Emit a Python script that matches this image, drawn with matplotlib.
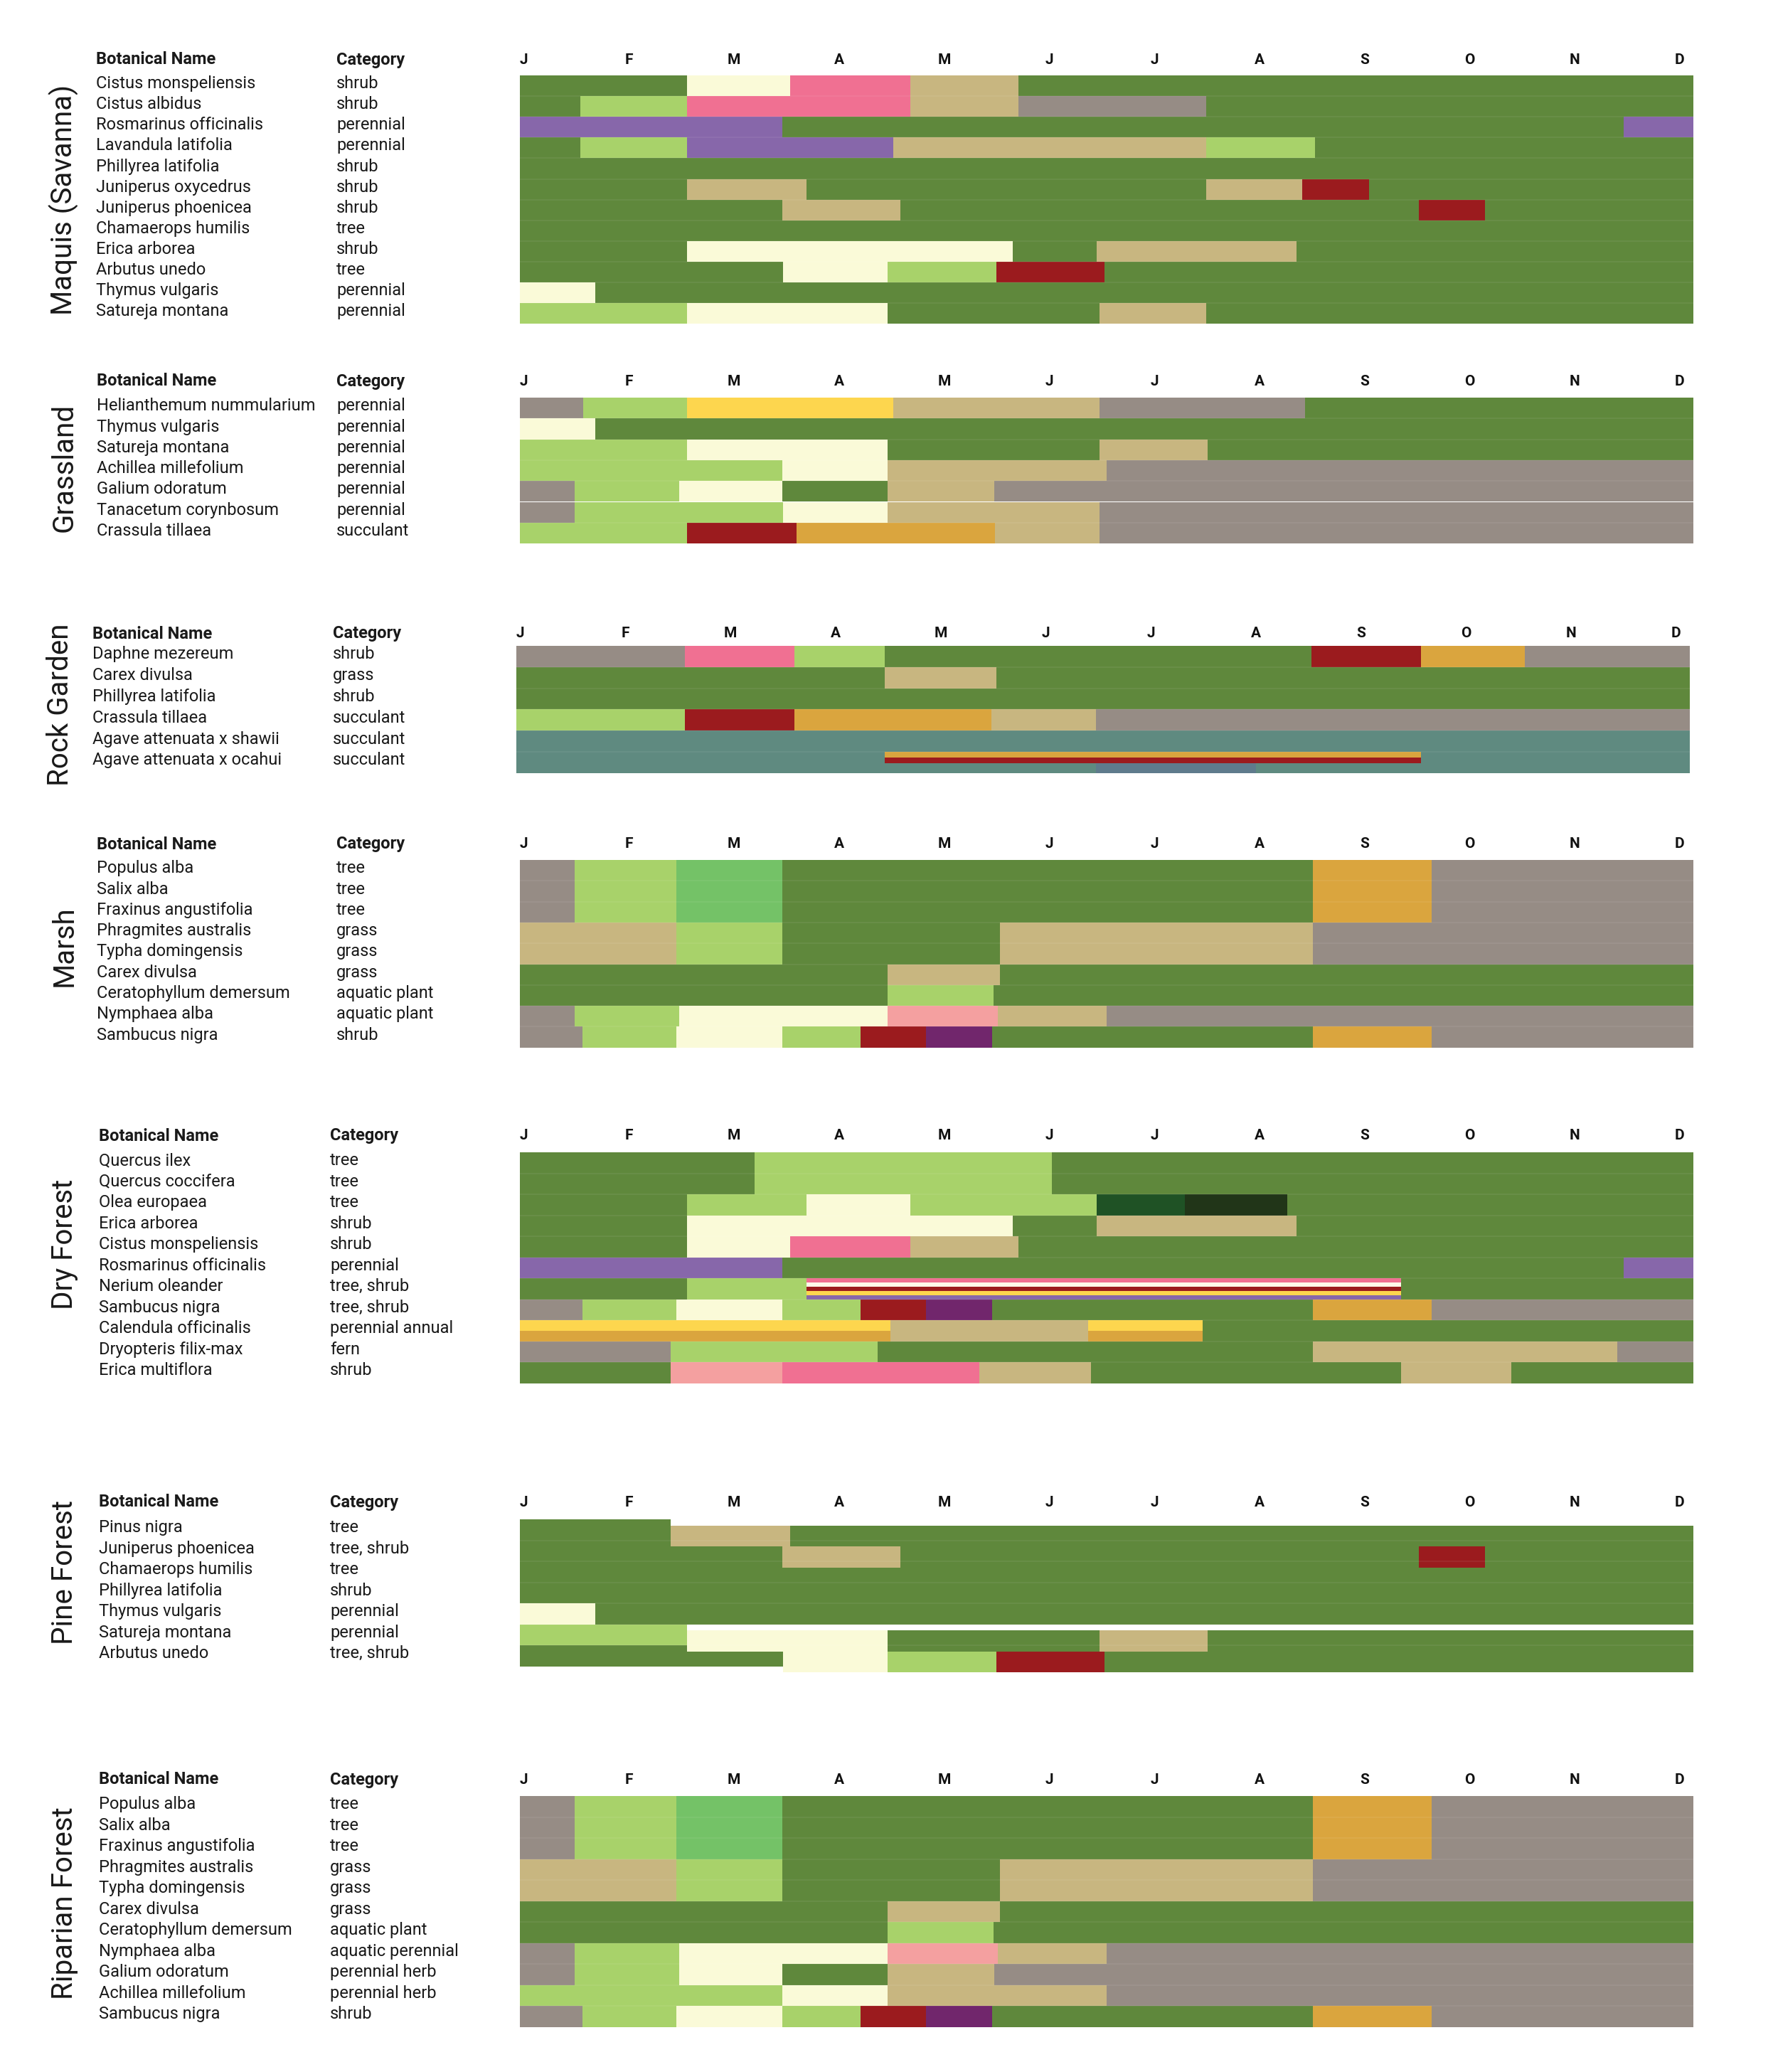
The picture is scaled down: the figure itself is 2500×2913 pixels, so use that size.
import numpy as np
import matplotlib
matplotlib.use("Agg")
import matplotlib.pyplot as plt
from matplotlib.transforms import blended_transform_factory

plt.rcParams['font.family'] = ['Roboto', 'DejaVu Sans']

MONTHS = ['J', 'F', 'M', 'A', 'M', 'J', 'J', 'A', 'S', 'O', 'N', 'D']

# phase colour keys -> hex
PALETTE = {
    'G': '#5f883c', 'LG': '#a8d26a', 'MG': '#74c267', 'CR': '#fafad8',
    'WH': '#fff8ea', 'PK': '#f07092', 'SA': '#f4a0a0', 'TN': '#c8b680',
    'GY': '#968c85', 'PU': '#8767aa', 'RD': '#9b1b1e', 'DP': '#71266c',
    'YL': '#fdd64e', 'OR': '#daa53e', 'TL': '#5f8a80', 'SL': '#5f7b8c',
    'DG': '#1f5225', 'BK': '#213518',
}

# ---- Maquis (Savanna)
MAQUIS_NAMES = ['Cistus monspeliensis', 'Cistus albidus', 'Rosmarinus officinalis',
                'Lavandula latifolia', 'Phillyrea latifolia', 'Juniperus oxycedrus',
                'Juniperus phoenicea', 'Chamaerops humilis', 'Erica arborea',
                'Arbutus unedo', 'Thymus vulgaris', 'Satureja montana']
MAQUIS_CATS = ['shrub', 'shrub', 'perennial', 'perennial', 'shrub', 'shrub', 'shrub',
               'tree', 'shrub', 'tree', 'perennial', 'perennial']
# each row: list of (phase, end month); a run starts where the previous one ended
MAQUIS_RUNS = [
    [('G', 1.71), ('CR', 2.76), ('PK', 3.99), ('TN', 5.10), ('G', 12)],
    [('G', 0.62), ('LG', 1.71), ('PK', 3.99), ('TN', 5.10), ('GY', 7.02), ('G', 12)],
    [('PU', 2.68), ('G', 11.29), ('PU', 12)],
    [('G', 0.62), ('LG', 1.71), ('PU', 3.82), ('TN', 7.02), ('LG', 8.13), ('G', 12)],
    [('G', 12)],
    [('G', 1.71), ('TN', 2.93), ('G', 7.02), ('TN', 8.0), ('RD', 8.68), ('G', 12)],
    [('G', 2.68), ('TN', 3.89), ('G', 9.19), ('RD', 9.87), ('G', 12)],
    [('G', 12)],
    [('G', 1.71), ('CR', 5.04), ('G', 5.90), ('TN', 7.94), ('G', 12)],
    [('G', 2.69), ('CR', 3.76), ('LG', 4.87), ('RD', 5.98), ('G', 12)],
    [('CR', 0.77), ('G', 12)],
    [('LG', 1.71), ('CR', 3.76), ('G', 5.93), ('TN', 7.02), ('G', 12)],
]

# ---- Grassland
GRASS_NAMES = ['Helianthemum nummularium', 'Thymus vulgaris', 'Satureja montana',
               'Achillea millefolium', 'Galium odoratum', 'Tanacetum corynbosum',
               'Crassula tillaea']
GRASS_CATS = ['perennial'] * 6 + ['succulant']
GRASS_RUNS = [
    [('GY', 0.65), ('LG', 1.71), ('YL', 3.82), ('TN', 5.93), ('GY', 8.03), ('G', 12)],
    [('CR', 0.77), ('G', 12)],
    [('LG', 1.71), ('CR', 3.76), ('G', 5.93), ('TN', 7.03), ('G', 12)],
    [('LG', 2.68), ('CR', 3.76), ('TN', 6.0), ('GY', 12)],
    [('GY', 0.56), ('LG', 1.63), ('CR', 2.68), ('G', 3.76), ('TN', 4.85), ('GY', 12)],
    [('GY', 0.56), ('LG', 2.69), ('CR', 3.76), ('TN', 5.93), ('GY', 12)],
    [('LG', 1.71), ('RD', 2.83), ('OR', 4.86), ('TN', 5.93), ('GY', 12)],
]

# ---- Rock Garden
ROCK_NAMES = ['Daphne mezereum', 'Carex divulsa', 'Phillyrea latifolia', 'Crassula tillaea',
              'Agave attenuata x shawii', 'Agave attenuata x ocahui']
ROCK_CATS = ['shrub', 'grass', 'shrub', 'succulant', 'succulant', 'succulant']
ROCK_RUNS = [
    [('GY', 1.72), ('PK', 2.84), ('LG', 3.77), ('G', 8.13), ('RD', 9.25), ('OR', 10.31), ('GY', 12)],
    [('G', 3.77), ('TN', 4.91), ('G', 12)],
    [('G', 12)],
    [('LG', 1.72), ('RD', 2.84), ('OR', 4.86), ('TN', 5.93), ('GY', 12)],
    [('TL', 12)],
    [('TL', 12)],
]
# partial-height bands: (row, start, end, phase, top frac, bottom frac)
ROCK_BANDS = [(5, 3.77, 9.25, 'OR', 0.0, 0.27), (5, 3.77, 9.25, 'RD', 0.27, 0.54),
              (5, 5.93, 7.56, 'SL', 0.54, 1.0)]

# ---- Marsh
MARSH_NAMES = ['Populus alba', 'Salix alba', 'Fraxinus angustifolia', 'Phragmites australis',
               'Typha domingensis', 'Carex divulsa', 'Ceratophyllum demersum',
               'Nymphaea alba', 'Sambucus nigra']
MARSH_CATS = ['tree', 'tree', 'tree', 'grass', 'grass', 'grass', 'aquatic plant',
              'aquatic plant', 'shrub']
MARSH_RUNS = [
    [('GY', 0.56), ('LG', 1.60), ('MG', 2.68), ('G', 8.11), ('OR', 9.32), ('GY', 12)],
    [('GY', 0.56), ('LG', 1.60), ('MG', 2.68), ('G', 8.11), ('OR', 9.32), ('GY', 12)],
    [('GY', 0.56), ('LG', 1.60), ('MG', 2.68), ('G', 8.11), ('OR', 9.32), ('GY', 12)],
    [('TN', 1.60), ('LG', 2.68), ('G', 4.91), ('TN', 8.11), ('GY', 12)],
    [('TN', 1.60), ('LG', 2.68), ('G', 4.91), ('TN', 8.11), ('GY', 12)],
    [('G', 3.76), ('TN', 4.91), ('G', 12)],
    [('G', 3.76), ('LG', 4.84), ('G', 12)],
    [('GY', 0.56), ('LG', 1.63), ('CR', 3.76), ('SA', 4.89), ('TN', 6.0), ('GY', 12)],
    [('GY', 0.64), ('LG', 1.60), ('CR', 2.68), ('LG', 3.48), ('RD', 4.15), ('DP', 4.83),
     ('G', 8.11), ('OR', 9.32), ('GY', 12)],
]

# ---- Dry Forest
DRY_NAMES = ['Quercus ilex', 'Quercus coccifera', 'Olea europaea', 'Erica arborea',
             'Cistus monspeliensis', 'Rosmarinus officinalis', 'Nerium oleander',
             'Sambucus nigra', 'Calendula officinalis', 'Dryopteris filix-max',
             'Erica multiflora']
DRY_CATS = ['tree', 'tree', 'tree', 'shrub', 'shrub', 'perennial', 'tree, shrub',
            'tree, shrub', 'perennial annual', 'fern', 'shrub']
DRY_RUNS = [
    [('G', 2.40), ('LG', 5.44), ('G', 12)],
    [('G', 2.40), ('LG', 5.44), ('G', 12)],
    [('G', 1.71), ('LG', 2.93), ('CR', 3.99), ('LG', 5.90), ('DG', 6.80), ('BK', 7.85), ('G', 12)],
    [('G', 1.71), ('CR', 5.04), ('G', 5.90), ('TN', 7.94), ('G', 12)],
    [('G', 1.71), ('CR', 2.76), ('PK', 3.99), ('TN', 5.10), ('G', 12)],
    [('PU', 2.68), ('G', 11.29), ('PU', 12)],
    [('G', 1.71), ('LG', 2.93), ('G', 12)],
    [('GY', 0.64), ('LG', 1.60), ('CR', 2.68), ('LG', 3.48), ('RD', 4.15), ('DP', 4.83),
     ('G', 8.11), ('OR', 9.32), ('GY', 12)],
    [('YL', 3.79), ('TN', 5.81), ('YL', 6.98), ('G', 12)],
    [('GY', 1.54), ('LG', 3.66), ('G', 8.11), ('TN', 11.22), ('GY', 12)],
    [('G', 1.54), ('SA', 2.68), ('PK', 4.70), ('TN', 5.84), ('G', 9.01), ('TN', 10.14), ('G', 12)],
]
DRY_BANDS = [(6, 2.93, 9.01, 'PK', 0.0, 0.2), (6, 2.93, 9.01, 'WH', 0.2, 0.4),
             (6, 2.93, 9.01, 'RD', 0.4, 0.6), (6, 2.93, 9.01, 'YL', 0.6, 0.8),
             (6, 2.93, 9.01, 'PU', 0.8, 1.0),
             (8, 0.0, 3.79, 'OR', 0.5, 1.0), (8, 5.81, 6.98, 'OR', 0.5, 1.0)]

# ---- Pine Forest
PINE_NAMES = ['Pinus nigra', 'Juniperus phoenicea', 'Chamaerops humilis', 'Phillyrea latifolia',
              'Thymus vulgaris', 'Satureja montana', 'Arbutus unedo']
PINE_CATS = ['tree', 'tree, shrub', 'tree', 'shrub', 'perennial', 'perennial', 'tree, shrub']
PINE_RUNS = [
    [('G', 1.54), ('TN', 2.76), ('G', 12)],
    [('G', 2.68), ('TN', 3.89), ('G', 9.19), ('RD', 9.87), ('G', 12)],
    [('G', 12)],
    [('G', 12)],
    [('CR', 0.77), ('G', 12)],
    [('LG', 1.71), ('CR', 3.76), ('G', 5.93), ('TN', 7.03), ('G', 12)],
    [('G', 2.69), ('CR', 3.76), ('LG', 4.87), ('RD', 5.98), ('G', 12)],
]
# month from which a row is drawn slipped down (as in the source table)
PINE_SHIFT_FROM = [1.54, 2.68, None, None, None, 1.71, 2.69]

# ---- Riparian Forest
RIP_NAMES = ['Populus alba', 'Salix alba', 'Fraxinus angustifolia', 'Phragmites australis',
             'Typha domingensis', 'Carex divulsa', 'Ceratophyllum demersum', 'Nymphaea alba',
             'Galium odoratum', 'Achillea millefolium', 'Sambucus nigra']
RIP_CATS = ['tree', 'tree', 'tree', 'grass', 'grass', 'grass', 'aquatic plant',
            'aquatic perennial', 'perennial herb', 'perennial herb', 'shrub']
RIP_RUNS = [
    [('GY', 0.56), ('LG', 1.60), ('MG', 2.68), ('G', 8.11), ('OR', 9.32), ('GY', 12)],
    [('GY', 0.56), ('LG', 1.60), ('MG', 2.68), ('G', 8.11), ('OR', 9.32), ('GY', 12)],
    [('GY', 0.56), ('LG', 1.60), ('MG', 2.68), ('G', 8.11), ('OR', 9.32), ('GY', 12)],
    [('TN', 1.60), ('LG', 2.68), ('G', 4.91), ('TN', 8.11), ('GY', 12)],
    [('TN', 1.60), ('LG', 2.68), ('G', 4.91), ('TN', 8.11), ('GY', 12)],
    [('G', 3.76), ('TN', 4.91), ('G', 12)],
    [('G', 3.76), ('LG', 4.84), ('G', 12)],
    [('GY', 0.56), ('LG', 1.63), ('CR', 3.76), ('SA', 4.89), ('TN', 6.0), ('GY', 12)],
    [('GY', 0.56), ('LG', 1.63), ('CR', 2.68), ('G', 3.76), ('TN', 4.85), ('GY', 12)],
    [('LG', 2.68), ('CR', 3.76), ('TN', 6.0), ('GY', 12)],
    [('GY', 0.64), ('LG', 1.60), ('CR', 2.68), ('LG', 3.48), ('RD', 4.15), ('DP', 4.83),
     ('G', 8.11), ('OR', 9.32), ('GY', 12)],
]

W, H = 2500, 2913
SHIFT = 0.29

# layout in pixels: rows top, row pitch, chart left/right, header y,
# name x, category x, title centre x / y
SECTIONS = [
    dict(title='Maquis (Savanna)', names=MAQUIS_NAMES, cats=MAQUIS_CATS, runs=MAQUIS_RUNS,
         top=106, pitch=29.1, left=731, right=2381, head=84, nx=135, cx=473, tx=90, ty=281),
    dict(title='Grassland', names=GRASS_NAMES, cats=GRASS_CATS, runs=GRASS_RUNS,
         top=559, pitch=29.3, left=731, right=2381, head=536, nx=136, cx=473, tx=90, ty=657),
    dict(title='Rock Garden', names=ROCK_NAMES, cats=ROCK_CATS, runs=ROCK_RUNS, bands=ROCK_BANDS,
         top=908, pitch=29.8, left=726, right=2376, head=891, nx=130, cx=468, tx=85, ty=991),
    dict(title='Marsh', names=MARSH_NAMES, cats=MARSH_CATS, runs=MARSH_RUNS,
         top=1209, pitch=29.3, left=731, right=2381, head=1187, nx=136, cx=473, tx=90, ty=1330),
    dict(title='Dry Forest', names=DRY_NAMES, cats=DRY_CATS, runs=DRY_RUNS, bands=DRY_BANDS,
         top=1620, pitch=29.5, left=731, right=2381, head=1597, nx=139, cx=464, tx=90, ty=1749),
    dict(title='Pine Forest', names=PINE_NAMES, cats=PINE_CATS, runs=PINE_RUNS,
         shift=PINE_SHIFT_FROM,
         top=2136, pitch=29.5, left=731, right=2381, head=2112, nx=139, cx=464, tx=90, ty=2211),
    dict(title='Riparian Forest', names=RIP_NAMES, cats=RIP_CATS, runs=RIP_RUNS,
         top=2525, pitch=29.5, left=731, right=2381, head=2502, nx=139, cx=464, tx=90, ty=2676),
]

fig = plt.figure(figsize=(W / 100, H / 100), dpi=100)


def fx(x):
    return x / W


def fy(y):
    return 1 - y / H


for sec in SECTIONS:
    n = len(sec['runs'])
    shifts = sec.get('shift', [None] * n)
    extra = SHIFT if any(s is not None for s in shifts) else 0
    height = (n + extra) * sec['pitch']
    ax = fig.add_axes([fx(sec['left']), fy(sec['top'] + height),
                       fx(sec['right'] - sec['left']), height / H])
    ax.set_xlim(0, 12)
    ax.set_ylim(n + extra, 0)
    ax.axis('off')

    # draw bottom rows first so rows above overlap them where shifted
    for i in reversed(range(n)):
        start = 0.0
        for key, end in sec['runs'][i]:
            dy = SHIFT if (shifts[i] is not None and start >= shifts[i] - 1e-6) else 0
            ax.barh(i + 0.5 + dy, end - start, left=start, height=1.0,
                    color=PALETTE[key], linewidth=0)
            start = end
    for row, s, e, key, f0, f1 in sec.get('bands', []):
        ax.barh(row + (f0 + f1) / 2, e - s, left=s, height=f1 - f0,
                color=PALETTE[key], linewidth=0)
    # faint row dividers
    ax.hlines(np.arange(1, n), 0, 12, colors='white', alpha=0.07, linewidth=1.2)

    trans_x = blended_transform_factory(ax.transData, fig.transFigure)
    for xm, lab in zip(np.linspace(0.04, 11.86, 12), MONTHS):
        ax.text(xm, fy(sec['head']), lab, transform=trans_x, ha='center', va='center',
                fontsize=15, fontweight='bold', color='#111111')

    fig.text(fx(sec['nx']), fy(sec['head']), 'Botanical Name', ha='left', va='center',
             fontsize=17, fontweight='bold', color='#1a1a1a')
    fig.text(fx(sec['cx']), fy(sec['head']), 'Category', ha='left', va='center',
             fontsize=17, fontweight='bold', color='#1a1a1a')

    trans_y = blended_transform_factory(fig.transFigure, ax.transData)
    for i, (name, cat) in enumerate(zip(sec['names'], sec['cats'])):
        ax.text(fx(sec['nx']), i + 0.4, name, transform=trans_y, ha='left', va='center',
                fontsize=17, color='#1a1a1a')
        ax.text(fx(sec['cx']), i + 0.4, cat, transform=trans_y, ha='left', va='center',
                fontsize=17, color='#1a1a1a')

    fig.text(fx(sec['tx']), fy(sec['ty']), sec['title'], rotation=90, ha='center',
             va='center', fontsize=29, color='#1a1a1a')

fig.savefig('out.png', dpi=100, facecolor='white')
